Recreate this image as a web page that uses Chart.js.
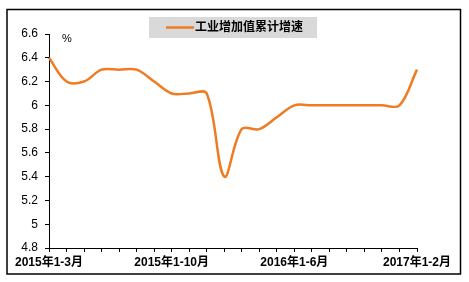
<!DOCTYPE html>
<html>
<head>
<meta charset="utf-8">
<script src="https://cdn.jsdelivr.net/npm/chart.js@4/dist/chart.umd.min.js"></script>
<style>
  html, body { margin: 0; padding: 0; background: #fff; }
  #wrap { position: relative; width: 469px; height: 282px; }
</style>
</head>
<body>
<div id="wrap"><canvas id="chart" width="469" height="282"></canvas></div>
<script>
var months = [
  "2015年1-3月","2015年1-4月","2015年1-5月","2015年1-6月","2015年1-7月",
  "2015年1-8月","2015年1-9月","2015年1-10月","2015年1-11月","2015年1-12月",
  "2016年1-2月","2016年1-3月","2016年1-4月","2016年1-5月","2016年1-6月",
  "2016年1-7月","2016年1-8月","2016年1-9月","2016年1-10月","2016年1-11月",
  "2016年1-12月","2017年1-2月"
];
var growth = [6.4,6.2,6.2,6.3,6.3,6.3,6.2,6.1,6.1,6.1,5.4,5.8,5.8,5.9,6.0,6.0,6.0,6.0,6.0,6.0,6.0,6.3];
var seriesName = "工业增加值累计增速";
var unitLabel = "%";

var lineColor = "#ef7b22";
var fontFamily = "'Liberation Sans', Arial, 'Noto Sans CJK SC', sans-serif";

// frame, legend box and unit label
var decor = {
  id: "decor",
  afterDraw: function(chart) {
    var ctx = chart.ctx;
    ctx.save();
    ctx.strokeStyle = "#000";
    ctx.lineWidth = 1.5;
    ctx.strokeRect(7, 9.5, 453.5, 264.5);

    ctx.fillStyle = "#d9d9d9";
    ctx.fillRect(149, 17, 168, 21);
    ctx.strokeStyle = lineColor;
    ctx.lineWidth = 2.5;
    ctx.beginPath();
    ctx.moveTo(166, 27.5);
    ctx.lineTo(194, 27.5);
    ctx.stroke();
    ctx.fillStyle = "#000";
    ctx.font = "bold 12px " + fontFamily;
    ctx.textBaseline = "middle";
    ctx.fillText(seriesName, 195, 28);

    ctx.font = "11px " + fontFamily;
    ctx.textBaseline = "alphabetic";
    ctx.fillText(unitLabel, 62, 42);
    ctx.restore();
  }
};

var ctx = document.getElementById("chart").getContext("2d");
new Chart(ctx, {
  type: "line",
  data: {
    labels: months,
    datasets: [{
      label: seriesName,
      data: growth,
      borderColor: lineColor,
      borderWidth: 2.5,
      pointRadius: 0,
      tension: 0.35,
      fill: false
    }]
  },
  options: {
    responsive: false,
    animation: false,
    layout: { padding: { left: 0, right: 52, top: 34, bottom: 0 } },
    plugins: { legend: { display: false }, tooltip: { enabled: false } },
    scales: {
      x: {
        offset: false,
        grid: { display: true, drawOnChartArea: false, drawTicks: true, tickLength: 4, color: "#000" },
        border: { display: true, color: "#000", width: 1 },
        ticks: {
          autoSkip: false,
          maxRotation: 0,
          padding: 3,
          color: "#000",
          font: { family: fontFamily, size: 12, weight: "bold" },
          callback: function(v, i) { return i % 7 === 0 ? months[i] : ""; }
        },
        afterFit: function(s) { s.height = 34; }
      },
      y: {
        min: 4.8,
        max: 6.6,
        grid: { display: true, drawOnChartArea: false, drawTicks: true, tickLength: 4, color: "#000" },
        border: { display: true, color: "#000", width: 1 },
        ticks: {
          stepSize: 0.2,
          padding: 7,
          color: "#000",
          font: { family: fontFamily, size: 12 },
          callback: function(v) { return String(Number(v.toFixed(1))); }
        },
        afterFit: function(s) { s.width = 49; }
      }
    }
  },
  plugins: [decor]
});
</script>
</body>
</html>
